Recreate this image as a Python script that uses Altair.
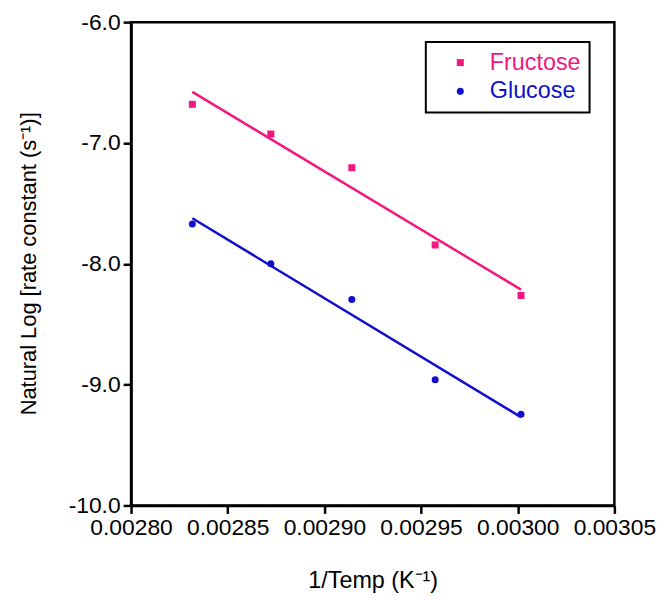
import altair as alt
import pandas as pd

inv_temp = [0.0028317, 0.0028723, 0.0029142, 0.0029573, 0.0030017]
fructose = [-6.680, -6.926, -7.205, -7.844, -8.262]
glucose = [-7.670, -8.000, -8.295, -8.959, -9.246]
sugars = ["Fructose", "Glucose"]
colors = ["#F0197F", "#1010CC"]
shapes = ["square", "circle"]
x_ticks = [0.0028, 0.00285, 0.0029, 0.00295, 0.003, 0.00305]
y_ticks = [-10.0, -9.0, -8.0, -7.0, -6.0]

rows = []
for s, vals in zip(sugars, [fructose, glucose]):
    for x, y in zip(inv_temp, vals):
        rows.append({"x": x, "y": y, "sugar": s})
df = pd.DataFrame(rows)

FONT = "Liberation Sans"

xenc = alt.X("x:Q", scale=alt.Scale(domain=[0.0028, 0.00305], nice=False, zero=False),
             axis=alt.Axis(values=x_ticks, format=".5f", title="1/Temp (K⁻¹)",
                           labelOverlap=False, labelFlush=False, titleFontSize=23.5,
                           titleY=76, titleBaseline="middle"))
yenc = alt.Y("y:Q", scale=alt.Scale(domain=[-10.0, -6.0], nice=False, zero=False),
             axis=alt.Axis(values=y_ticks,
                           labelExpr="replace(format(datum.value, '.1f'), '\u2212', '-')",
                           labelOverlap=False, labelFlush=False,
                           title="Natural Log [rate constant (s⁻¹)]",
                           titleX=-103, titleY=243, titleBaseline="middle"))
color_scale = alt.Scale(domain=sugars, range=colors)
shape_scale = alt.Scale(domain=sugars, range=shapes)

legend = alt.Legend(
    title=None, orient="none", legendX=297, legendY=20,
    strokeColor="black", padding=9, symbolOffset=14,
    labelFontSize=23.5, labelFont=FONT, labelOffset=18,
    rowPadding=4, symbolSize=50, labelLimit=300,
    labelColor=alt.ExprRef("datum.label == 'Fructose' ? '#F0197F' : '#1010CC'"),
)

points = alt.Chart(df).mark_point(filled=True, size=50, opacity=1).encode(
    x=xenc, y=yenc,
    color=alt.Color("sugar:N", scale=color_scale, legend=legend),
    shape=alt.Shape("sugar:N", scale=shape_scale, legend=legend),
)

lines = alt.Chart(df).transform_regression(
    "x", "y", groupby=["sugar"]
).mark_line(strokeWidth=2.5).encode(
    x=xenc, y=yenc,
    stroke=alt.Stroke("sugar:N", scale=color_scale, legend=None),
)

chart = alt.layer(lines, points).resolve_scale(
    color="independent", shape="independent", stroke="independent"
).properties(
    width=487, height=487,
    autosize=alt.AutoSizeParams(type="none"),
    padding={"left": 124, "top": 12, "right": 50, "bottom": 92},
).configure_view(
    stroke="black", strokeWidth=2.5
).configure_axis(
    domainColor="black", domainWidth=2.5, tickColor="black", tickWidth=2.5,
    tickSize=8, grid=False, labelFont=FONT, titleFont=FONT,
    labelFontSize=23, titleFontSize=22, labelColor="black", titleColor="black",
    titleFontWeight="normal", labelPadding=3,
).configure_legend(
    strokeWidth=2
)

chart.save("out.html", embed_options={"renderer": "svg", "actions": False})
